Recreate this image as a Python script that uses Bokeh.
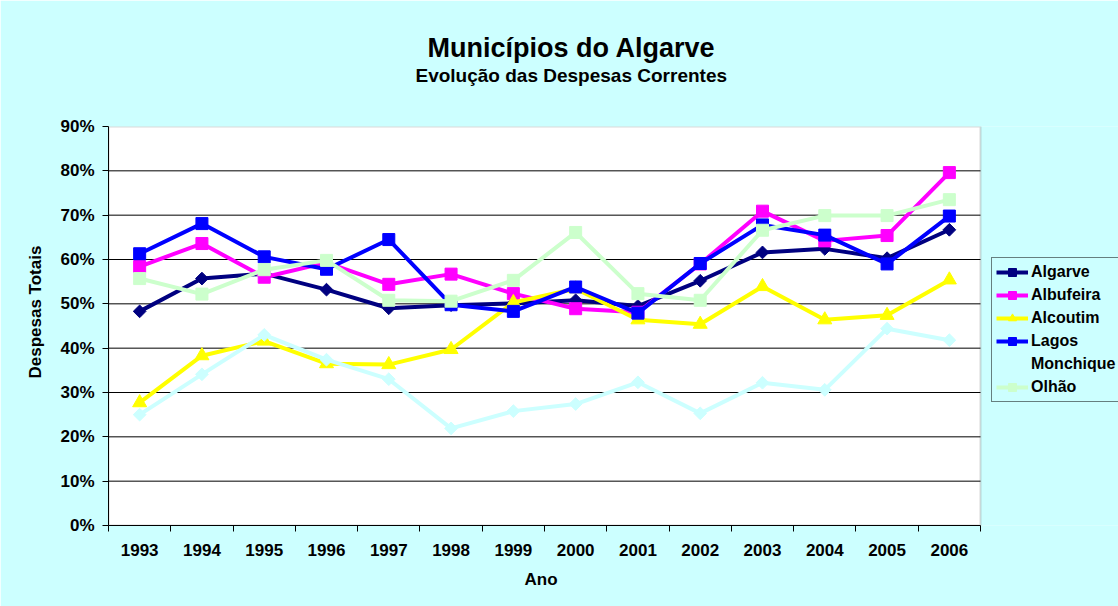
import math
from bokeh.plotting import figure
from bokeh.models import Range1d, FixedTicker, Legend, LegendItem, Title, BoxAnnotation
from bokeh.embed import file_html
from bokeh.resources import INLINE

years = [1993, 1994, 1995, 1996, 1997, 1998, 1999, 2000, 2001, 2002, 2003, 2004, 2005, 2006]
algarve = [48.3, 55.7, 56.8, 53.2, 49.0, 49.7, 50.1, 50.8, 49.5, 55.2, 61.6, 62.4, 60.3, 66.7]
albufeira = [58.4, 63.6, 56.0, 59.3, 54.4, 56.7, 52.3, 48.9, 48.1, 59.0, 70.9, 64.2, 65.4, 79.6]
alcoutim = [27.7, 38.3, 41.6, 36.5, 36.3, 39.7, 50.3, 53.4, 46.4, 45.4, 53.9, 46.4, 47.4, 55.4]
lagos = [61.3, 68.1, 60.6, 57.8, 64.5, 49.8, 48.3, 53.8, 47.9, 59.1, 67.8, 65.5, 59.0, 69.8]
monchique = [25.0, 34.1, 43.0, 37.4, 33.0, 21.9, 25.8, 27.4, 32.3, 25.3, 32.2, 30.6, 44.4, 41.8]
olhao = [55.7, 52.2, 57.7, 59.8, 50.8, 50.6, 55.3, 66.1, 52.3, 50.8, 66.6, 69.9, 69.9, 73.5]

series_names = ["Algarve", "Albufeira", "Alcoutim", "Lagos", "Monchique", "Olhão"]
series_values = [algarve, albufeira, alcoutim, lagos, monchique, olhao]
series_colors = ["#000080", "#FF00FF", "#FFFF00", "#0000FF", "#CCFFFF", "#CCFFCC"]
series_markers = ["diamond", "square", "triangle", "square", "diamond", "square"]

y_ticks = [0, 10, 20, 30, 40, 50, 60, 70, 80, 90]
y_labels = {t: f"{t}%" for t in y_ticks}

FONT = "Liberation Sans"
BG = "#CCFFFF"

# plot area spans the years; the frame extends to the right to host the legend
PLOT_PX = 872
RIGHT_PX = 138
x_lo = years[0] - 0.5
x_hi = years[-1] + 0.5
x_end = x_hi + (x_hi - x_lo) * RIGHT_PX / PLOT_PX

p = figure(width=1118, height=606, output_backend="svg", toolbar_location=None,
           x_range=Range1d(x_lo, x_end), y_range=Range1d(y_ticks[0], y_ticks[-1]),
           min_border_left=108, min_border_right=0, min_border_top=126, min_border_bottom=81)
p.border_fill_color = BG
p.background_fill_color = BG
p.outline_line_color = None

plot_area = BoxAnnotation(left=x_lo, right=x_hi, bottom=y_ticks[0], top=y_ticks[-1],
                          fill_color="white", fill_alpha=1, line_color="#808080",
                          line_width=2, level="underlay")
p.add_layout(plot_area)

# gridlines limited to the plot area
inner = y_ticks[1:-1]
p.segment(x0=[x_lo] * len(inner), y0=inner, x1=[x_hi] * len(inner), y1=inner,
          line_color="black", line_width=1)

# axes
p.yaxis.ticker = FixedTicker(ticks=y_ticks)
p.yaxis.major_label_overrides = y_labels
p.yaxis.major_tick_out = 6
p.yaxis.major_tick_in = 0
p.yaxis.minor_tick_line_color = None
p.yaxis.axis_line_color = "black"
p.yaxis.major_tick_line_color = "black"
p.yaxis.major_label_standoff = 8

bounds = [y - 0.5 for y in years] + [x_hi]
p.xaxis.ticker = FixedTicker(ticks=years, minor_ticks=bounds)
p.xaxis.bounds = (x_lo, x_hi)
p.xaxis.major_label_overrides = {y: str(y) for y in years}
p.xaxis.major_tick_line_color = None
p.xaxis.minor_tick_out = 6
p.xaxis.minor_tick_in = 0
p.xaxis.minor_tick_line_color = "black"
p.xaxis.axis_line_color = "black"
p.xaxis.major_label_standoff = 12

for ax in (p.xaxis, p.yaxis):
    ax.major_label_text_font = FONT
    ax.major_label_text_font_style = "bold"
    ax.major_label_text_font_size = "17px"
    ax.major_label_text_color = "black"

p.xgrid.grid_line_color = None
p.ygrid.grid_line_color = None

items = []
for name, vals, col, mk in zip(series_names, series_values, series_colors, series_markers):
    r1 = p.line(years, vals, line_color=col, line_width=4)
    if mk == "diamond":
        r2 = p.scatter(years, vals, marker="square", angle=math.pi / 4, size=9,
                       fill_color=col, line_color=col)
    elif mk == "triangle":
        r2 = p.scatter(years, vals, marker="triangle", size=14, fill_color=col, line_color=col)
    else:
        r2 = p.scatter(years, vals, marker="square", size=12, fill_color=col, line_color=col)
    items.append(LegendItem(label=name, renderers=[r1, r2]))

legend = Legend(items=items, location=(PLOT_PX + 11, 123))
legend.label_text_font = FONT
legend.label_text_font_style = "bold"
legend.label_text_font_size = "16px"
legend.label_text_color = "black"
legend.background_fill_color = BG
legend.background_fill_alpha = 1
legend.border_line_color = "black"
legend.border_line_width = 1
legend.glyph_width = 32
legend.glyph_height = 20
legend.label_height = 20
legend.label_standoff = 3
legend.spacing = 3
legend.padding = 4
legend.margin = 0
p.add_layout(legend, "center")

# titles: spacer closest to frame, then subtitle, then main title
spacer = Title(text=" ", text_font_size="1px", standoff=38)
subtitle = Title(text="Evolução das Despesas Correntes", text_font=FONT,
                 text_font_style="bold", text_font_size="19px", text_color="black",
                 align="left", offset=307, standoff=0)
title = Title(text="Municípios do Algarve", text_font=FONT, text_font_style="bold",
              text_font_size="27px", text_color="black", align="left", offset=319, standoff=0)
p.add_layout(spacer, "above")
p.add_layout(subtitle, "above")
p.add_layout(title, "above")

# axis titles, placed as in the reference (centred on the chart area)
x_title = Title(text="Ano", text_font=FONT, text_font_style="bold", text_font_size="17px",
                text_color="black", align="left", offset=416, vertical_align="middle",
                standoff=20)
p.add_layout(x_title, "below")
y_title = Title(text="Despesas Totais", text_font=FONT, text_font_style="bold",
                text_font_size="17px", text_color="black", align="left", offset=147,
                vertical_align="middle", standoff=24)
p.add_layout(y_title, "left")

open("out.html", "w").write(file_html(p, INLINE))
